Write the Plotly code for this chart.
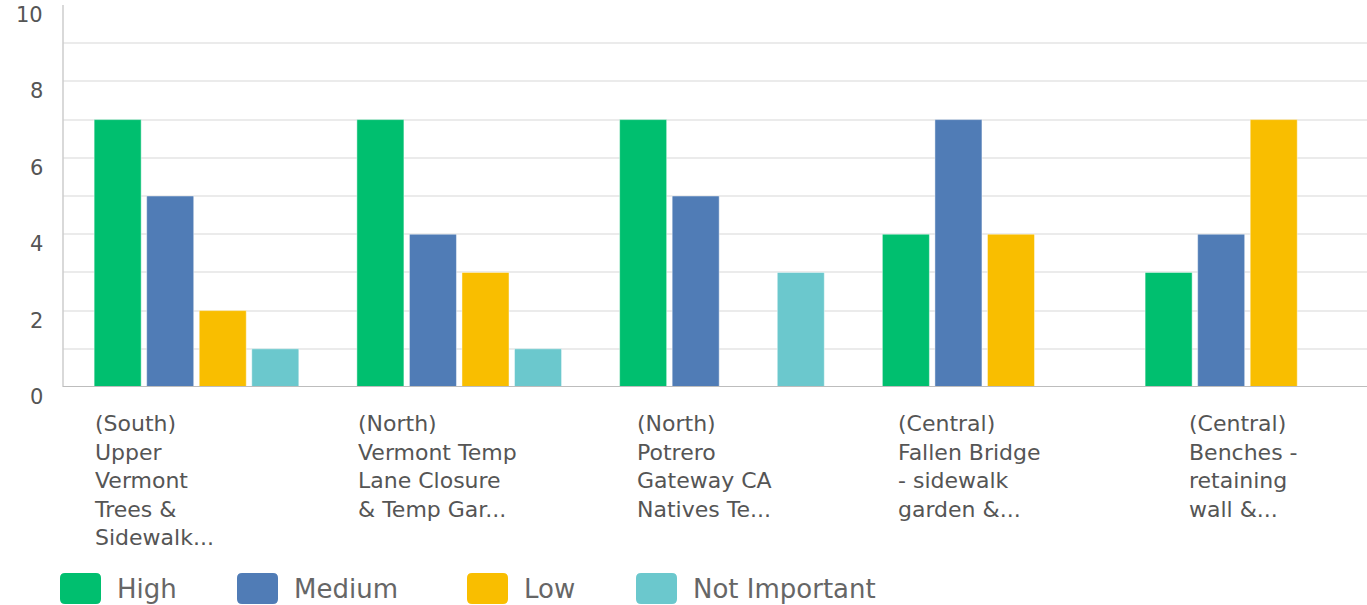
import plotly.graph_objects as go

categories = [
    "(South)<br>Upper<br>Vermont<br>Trees &amp;<br>Sidewalk...",
    "(North)<br>Vermont Temp<br>Lane Closure<br>&amp; Temp Gar...",
    "(North)<br>Potrero<br>Gateway CA<br>Natives Te...",
    "(Central)<br>Fallen Bridge<br>- sidewalk<br>garden &amp;...",
    "(Central)<br>Benches -<br>retaining<br>wall &amp;...",
]
series_names = ["High", "Medium", "Low", "Not Important"]
high = [7, 7, 7, 4, 3]
medium = [5, 4, 5, 7, 4]
low = [2, 3, 0, 4, 7]
not_important = [1, 1, 3, 0, 0]
colors = ["#00BF6F", "#507CB6", "#F9BE00", "#6BC8CD"]
y_ticks = [0, 2, 4, 6, 8, 10]

W, H = 1367, 605
ML, MR, MT, MB = 63, 0, 5, 218
PW, PH = W - ML - MR, H - MT - MB

def px(x):
    return (x - ML) / PW

def py(y):
    return (H - MB - y) / PH

xs = list(range(len(categories)))
fig = go.Figure()
for name, vals, col in zip(series_names, [high, medium, low, not_important], colors):
    fig.add_trace(go.Bar(
        x=xs, y=vals, name=name,
        marker=dict(color=col, line=dict(color="rgba(255,255,255,0.45)", width=1)),
        showlegend=False,
    ))

# category labels
label_shift = [-104, -103, -87, -89, -60]
for i, (cat, sh) in enumerate(zip(categories, label_shift)):
    fig.add_annotation(
        x=i, xref="x", y=py(409), yref="paper",
        text=cat, showarrow=False, xanchor="left", yanchor="top",
        align="left", xshift=sh,
        font=dict(family="DejaVu Sans", size=22, color="#555555"),
    )

# y tick labels (sit slightly below their grid lines)
for v in y_ticks:
    fig.add_annotation(
        x=0, xref="paper", y=v, yref="y", text=str(v), showarrow=False,
        xanchor="right", yanchor="middle", xshift=-18, yshift=-10,
        font=dict(family="DejaVu Sans", size=21, color="#555555"),
    )

# legend drawn as shapes + text
leg_sw = [60, 237, 467, 636]
for name, col, x0 in zip(series_names, colors, leg_sw):
    x1 = x0 + 41
    y0, y1 = 573, 604
    r = 5
    X0, X1, Y0, Y1 = px(x0), px(x1), py(y0), py(y1)
    rx, ry = r / PW, r / PH
    path = (f"M{X0+rx},{Y0} L{X1-rx},{Y0} Q{X1},{Y0} {X1},{Y0-ry} "
            f"L{X1},{Y1+ry} Q{X1},{Y1} {X1-rx},{Y1} L{X0+rx},{Y1} "
            f"Q{X0},{Y1} {X0},{Y1+ry} L{X0},{Y0-ry} Q{X0},{Y0} {X0+rx},{Y0} Z")
    fig.add_shape(type="path", path=path, xref="paper", yref="paper",
                  fillcolor=col, line=dict(width=0))
    fig.add_annotation(
        x=px(x1 + 14), y=py(589), xref="paper", yref="paper",
        text=name, showarrow=False, xanchor="left", yanchor="middle",
        font=dict(family="DejaVu Sans", size=26, color="#666666"),
    )

fig.update_layout(
    width=W, height=H,
    margin=dict(l=ML, r=MR, t=MT, b=MB, pad=0),
    paper_bgcolor="white", plot_bgcolor="white",
    barmode="group", bargap=0.2, bargroupgap=0.105,
    showlegend=False,
)
fig.update_xaxes(
    range=[-0.508, 4.455], showticklabels=False, showgrid=False,
    zeroline=False, showline=False, ticks="",
)
fig.update_yaxes(
    range=[0, 10], tickvals=y_ticks, showticklabels=False,
    showgrid=False, zeroline=False, showline=False, ticks="",
    minor=dict(tickvals=[1, 2, 3, 4, 5, 6, 7, 8, 9], showgrid=True,
               gridcolor="#ebebeb", gridwidth=1.5, ticks=""),
)
# axis lines
fig.add_shape(type="line", xref="paper", yref="paper", x0=0, x1=0, y0=0, y1=1,
              line=dict(color="#cccccc", width=1.5))
fig.add_shape(type="line", xref="paper", yref="y", x0=0, x1=1, y0=0, y1=0,
              line=dict(color="#bdbdbd", width=2))

fig.write_html(
    "out.html",
    config={"displayModeBar": False},
    post_script="document.body.style.margin='0';document.body.style.padding='0';"
                "document.body.style.overflow='hidden';",
)
